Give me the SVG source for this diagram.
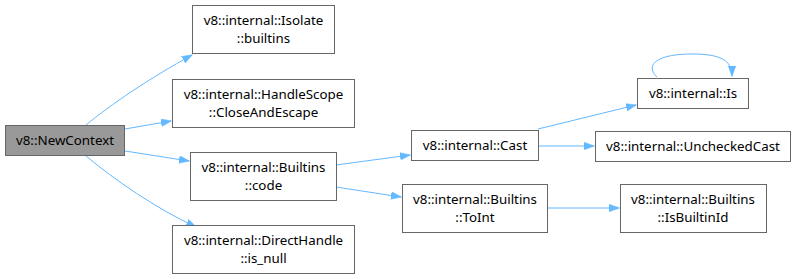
<svg xmlns="http://www.w3.org/2000/svg" width="796" height="279" viewBox="0 0 796 279">
  <style>
    .node rect { fill: #ffffff; stroke: #666666; stroke-width: 1; }
    .node.root rect { fill: #999999; }
    .node text { font-family: "Noto Sans", "DejaVu Sans", sans-serif; font-size: 13.33px; fill: #000000; text-anchor: middle; }
    .edge { fill: none; stroke: #63b8ff; stroke-width: 1; marker-end: url(#arrow); }
  </style>
  <defs>
    <marker id="arrow" markerWidth="11" markerHeight="8" refX="10" refY="3.8" orient="auto" markerUnits="userSpaceOnUse">
      <path d="M0,0 L10.5,3.8 L0,7.6 z" fill="#63b8ff" stroke="#63b8ff" stroke-width="0.5"/>
    </marker>
  </defs>
  <rect width="796" height="279" fill="#ffffff"/>

  <g id="connectors">
    <path class="edge" d="M86,125 C110,105 150,78 192,55"/>
    <path class="edge" d="M125,129 L171,121"/>
    <path class="edge" d="M125,151 L189,161"/>
    <path class="edge" d="M86,156 C115,180 155,208 196,227"/>
    <path class="edge" d="M336,165 L410,155"/>
    <path class="edge" d="M336,187 L401,197"/>
    <path class="edge" d="M538,129 L636,105"/>
    <path class="edge" d="M538,146 L594,146"/>
    <path class="edge" d="M657,77 C645,66 655,54 692,54 C720,54 732,60 732,76"/>
    <path class="edge" d="M547,208 L619,208"/>
  </g>

  <g id="n-newcontext" class="node root">
    <rect x="5.5" y="125.5" width="119" height="30"/>
    <text x="65" y="145">v8::NewContext</text>
  </g>
  <g id="n-isolate-builtins" class="node">
    <rect x="192.5" y="5.5" width="142" height="48"/>
    <text x="263.5" y="24.5">v8::internal::Isolate</text>
    <text x="263.5" y="42.5">::builtins</text>
  </g>
  <g id="n-handlescope" class="node">
    <rect x="172.5" y="79.5" width="182" height="48"/>
    <text x="263.5" y="98.5">v8::internal::HandleScope</text>
    <text x="263.5" y="116.5">::CloseAndEscape</text>
  </g>
  <g id="n-builtins-code" class="node">
    <rect x="190.5" y="152.5" width="146" height="48"/>
    <text x="263.5" y="171.5">v8::internal::Builtins</text>
    <text x="263.5" y="189.5">::code</text>
  </g>
  <g id="n-directhandle" class="node">
    <rect x="172.5" y="225.5" width="182" height="48"/>
    <text x="263.5" y="244.5">v8::internal::DirectHandle</text>
    <text x="263.5" y="262.5">::is_null</text>
  </g>
  <g id="n-cast" class="node">
    <rect x="411.5" y="130.5" width="127" height="30"/>
    <text x="475" y="150">v8::internal::Cast</text>
  </g>
  <g id="n-toint" class="node">
    <rect x="402.5" y="184.5" width="145" height="48"/>
    <text x="475" y="203.5">v8::internal::Builtins</text>
    <text x="475" y="221.5">::ToInt</text>
  </g>
  <g id="n-is" class="node">
    <rect x="637.5" y="78.5" width="111" height="30"/>
    <text x="693" y="98">v8::internal::Is</text>
  </g>
  <g id="n-uncheckedcast" class="node">
    <rect x="595.5" y="131.5" width="195" height="30"/>
    <text x="693" y="151">v8::internal::UncheckedCast</text>
  </g>
  <g id="n-isbuiltinid" class="node">
    <rect x="620.5" y="184.5" width="146" height="48"/>
    <text x="693" y="203.5">v8::internal::Builtins</text>
    <text x="693" y="221.5">::IsBuiltinId</text>
  </g>
</svg>
